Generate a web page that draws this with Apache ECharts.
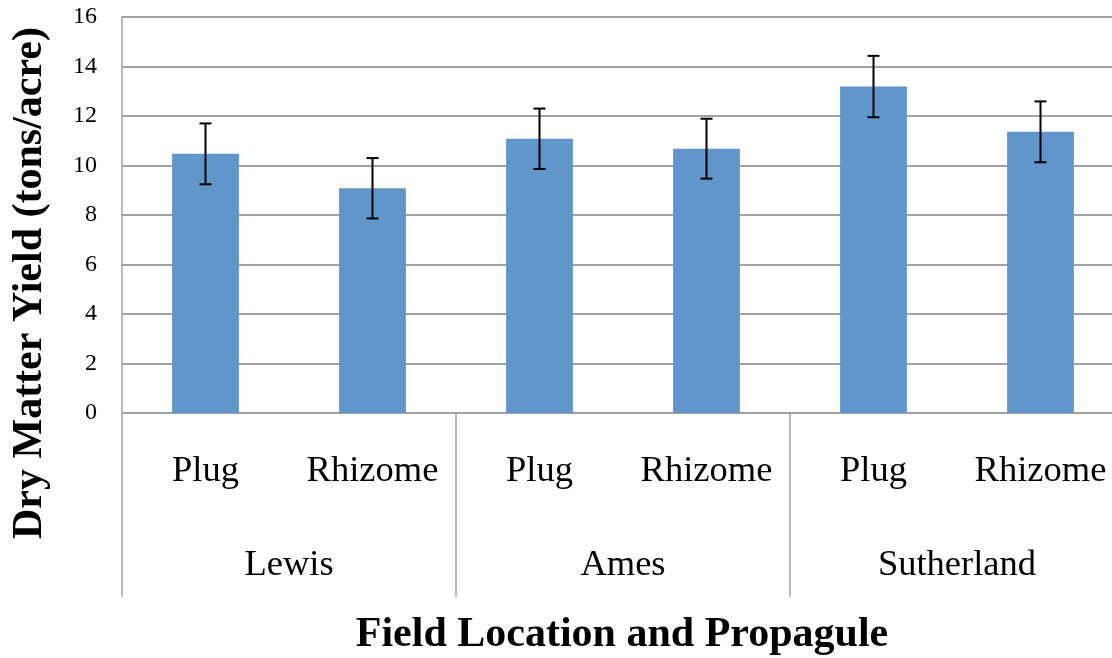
<!DOCTYPE html>
<html lang="en">
<head>
    <meta charset="UTF-8">
    <title>Dry Matter Yield</title>
    <script src="https://cdn.jsdelivr.net/npm/echarts@6/dist/echarts.min.js"></script>
    <style>
      html, body { margin: 0; padding: 0; background: #fff; }
      #main { width: 1112px; height: 658px; }
    </style>
</head>
<body>
    <div id="main"></div>
    <script>
      // propagule per bar, and the field location groups underneath
      const propagules = ["Plug", "Rhizome", "Plug", "Rhizome", "Plug", "Rhizome"];
      const locations = ["Lewis", "Ames", "Sutherland"];
      // yield (tons/acre) and the +/- error of each bar
      const yieldValues = [10.47, 9.08, 11.08, 10.68, 13.19, 11.36];
      const errorValues = [1.23, 1.22, 1.22, 1.21, 1.24, 1.23];
      const yTicks = [0, 2, 4, 6, 8, 10, 12, 14, 16];

      const serif = "'Liberation Serif', 'Times New Roman', serif";
      const gridColor = "#a3a3a3";

      var myChart = echarts.init(document.getElementById("main"));

      // error bar data: [index, low, high]
      const errorData = yieldValues.map(function (v, i) {
        return [i, v - errorValues[i], v + errorValues[i]];
      });

      var option = {
        animation: false,
        grid: { left: 122, top: 17, width: 1002, height: 396, outerBoundsMode: "none", containLabel: false },
        xAxis: [
          {
            type: "category",
            data: propagules,
            position: "bottom",
            axisLine: { lineStyle: { color: gridColor, width: 1.5 } },
            axisTick: { show: false },
            axisLabel: {
              color: "#000",
              fontFamily: serif,
              fontSize: 36.5,
              margin: 40,
              interval: 0
            }
          },
          {
            type: "category",
            data: locations,
            position: "bottom",
            axisLine: { show: false },
            axisTick: {
              show: true,
              interval: 0,
              length: 184,
              lineStyle: { color: gridColor, width: 1.5 }
            },
            axisLabel: {
              color: "#000",
              fontFamily: serif,
              fontSize: 36.5,
              margin: 134,
              interval: 0
            }
          }
        ],
        yAxis: {
          type: "value",
          min: yTicks[0],
          max: yTicks[yTicks.length - 1],
          interval: 2,
          axisLine: { show: true, lineStyle: { color: gridColor, width: 1.5 } },
          axisTick: { show: false },
          splitLine: { lineStyle: { color: gridColor, width: 2 } },
          axisLabel: {
            color: "#000",
            fontFamily: serif,
            fontSize: 24,
            margin: 25
          }
        },
        graphic: [
          {
            type: "text",
            x: 30,
            y: 283,
            rotation: Math.PI / 2,
            style: {
              text: "Dry Matter Yield (tons/acre)",
              font: "bold 42px " + serif,
              fill: "#000",
              align: "center",
              verticalAlign: "middle"
            }
          },
          {
            type: "text",
            x: 622,
            y: 635,
            style: {
              text: "Field Location and Propagule",
              font: "bold 42px " + serif,
              fill: "#000",
              align: "center",
              verticalAlign: "middle"
            }
          }
        ],
        series: [
          {
            type: "bar",
            data: yieldValues,
            barWidth: "40%",
            itemStyle: { color: "#6096c9" }
          },
          {
            type: "custom",
            data: errorData,
            z: 10,
            renderItem: function (params, api) {
              var x = api.value(0);
              var low = api.coord([x, api.value(1)]);
              var high = api.coord([x, api.value(2)]);
              var cap = 6;
              var style = { stroke: "#000", lineWidth: 2 };
              return {
                type: "group",
                children: [
                  { type: "line", shape: { x1: low[0], y1: low[1], x2: high[0], y2: high[1] }, style: style },
                  { type: "line", shape: { x1: low[0] - cap, y1: low[1], x2: low[0] + cap, y2: low[1] }, style: style },
                  { type: "line", shape: { x1: high[0] - cap, y1: high[1], x2: high[0] + cap, y2: high[1] }, style: style }
                ]
              };
            }
          }
        ]
      };
      option && myChart.setOption(option);
    </script>
</body>
</html>
